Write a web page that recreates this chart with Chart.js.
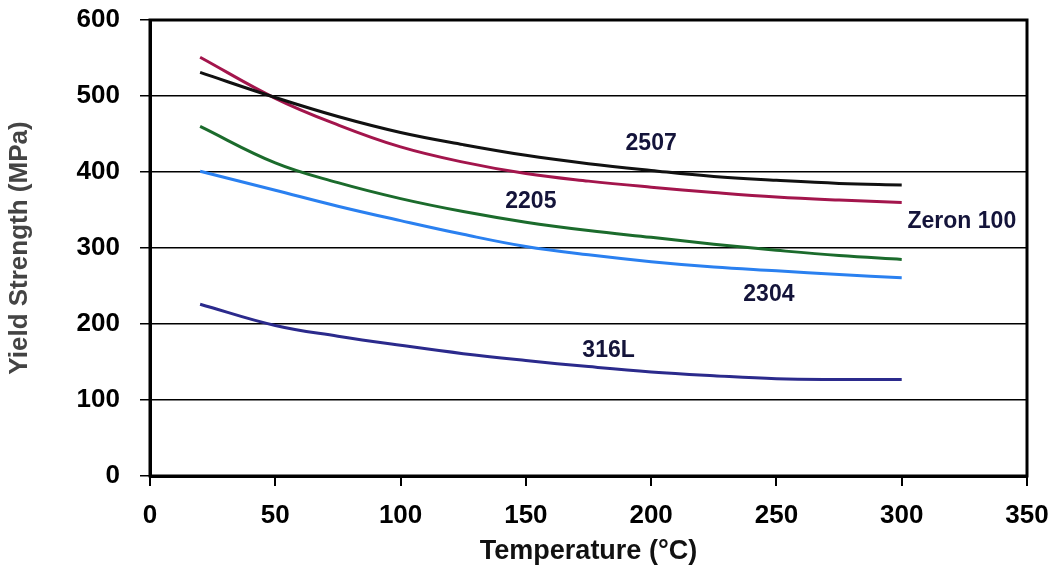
<!DOCTYPE html>
<html>
<head>
<meta charset="utf-8">
<script src="https://cdn.jsdelivr.net/npm/chart.js@4/dist/chart.umd.min.js"></script>
<style>
    html, body { margin: 0; padding: 0; background: #fff; }
    #wrap { width: 1055px; height: 572px; }
</style>
</head>
<body>
<div id="wrap"><canvas id="yieldChart" width="1055" height="572"></canvas></div>
<script>
// Temperature points (°C)
const temps = [20, 50, 75, 100, 125, 150, 175, 200, 225, 250, 275, 300];

// Yield strength (MPa)
const s2507  = [531, 498, 473, 452, 436, 422, 411, 402, 394, 389, 385, 383];
const zeron  = [551, 497, 462, 433, 413, 398, 388, 380, 373, 367, 363, 360];
const s2205  = [460, 412, 386, 365, 348, 334, 323, 314, 305, 297, 290, 285];
const s2304  = [401, 376, 355, 336, 318, 302, 291, 282, 275, 270, 265, 261];
const s316L  = [226, 198, 184, 172, 161, 152, 144, 137, 132, 128, 127, 127];

const xTicks = [0, 50, 100, 150, 200, 250, 300, 350];
const yTicks = [0, 100, 200, 300, 400, 500, 600];

// Curve names placed inside the plot (in data units)
const labelNames = ['2507', '2205', 'Zeron 100', '2304', '316L'];
const labelX = [200, 152, 324, 247, 183];
const labelY = [437, 361, 335, 239, 165];

const FONT = '"Liberation Sans", Arial, sans-serif';

function pts(vals) {
    return temps.map((t, i) => ({ x: t, y: vals[i] }));
}

function line(label, vals, color) {
    return {
        label: label,
        data: pts(vals),
        borderColor: color,
        borderWidth: 3,
        pointRadius: 0,
        fill: false,
        showLine: true,
        tension: 0.4
    };
}

// frame round the plot area + curve names
const framePlugin = {
    id: 'frame',
    afterDatasetsDraw(chart) {
        const { ctx, chartArea, scales } = chart;
        ctx.save();
        ctx.fillStyle = '#14143a';
        ctx.font = 'bold 23px ' + FONT;
        ctx.textAlign = 'center';
        ctx.textBaseline = 'middle';
        labelNames.forEach((name, i) => {
            ctx.fillText(name, scales.x.getPixelForValue(labelX[i]), scales.y.getPixelForValue(labelY[i]));
        });
        ctx.strokeStyle = '#000';
        ctx.lineWidth = 3;
        ctx.strokeRect(chartArea.left, chartArea.top, chartArea.right - chartArea.left, chartArea.bottom - chartArea.top);
        ctx.restore();
    }
};

let yieldChart;

function initChart() {
    const ctx = document.getElementById('yieldChart').getContext('2d');
    yieldChart = new Chart(ctx, {
        type: 'scatter',
        data: {
            datasets: [
                line('2507', s2507, '#111111'),
                line('Zeron 100', zeron, '#a3154c'),
                line('2205', s2205, '#1b6b2c'),
                line('2304', s2304, '#2a80f0'),
                line('316L', s316L, '#2b2a8c')
            ]
        },
        options: {
            responsive: false,
            animation: false,
            layout: { padding: { top: 20, right: 28, left: 0, bottom: 0 } },
            plugins: {
                legend: { display: false },
                tooltip: { enabled: false }
            },
            scales: {
                x: {
                    type: 'linear',
                    min: 0,
                    max: 350,
                    afterBuildTicks: (s) => { s.ticks = xTicks.map(v => ({ value: v })); },
                    afterFit: (s) => { s.height = 96; s.paddingLeft = 0; s.paddingRight = 0; },
                    grid: { drawOnChartArea: false, color: '#000', lineWidth: 2, tickLength: 10 },
                    border: { display: true, color: '#000', width: 3 },
                    ticks: {
                        color: '#000',
                        padding: 14,
                        maxRotation: 0,
                        font: { family: FONT, size: 26, weight: 'bold' }
                    },
                    title: {
                        display: true,
                        text: 'Temperature (°C)',
                        color: '#111',
                        padding: { top: 0 },
                        font: { family: FONT, size: 27, weight: 'bold' }
                    }
                },
                y: {
                    type: 'linear',
                    min: 0,
                    max: 600,
                    afterBuildTicks: (s) => { s.ticks = yTicks.map(v => ({ value: v })); },
                    afterFit: (s) => { s.width = 150; s.paddingTop = 0; s.paddingBottom = 0; },
                    grid: { color: '#000', lineWidth: 1.5, tickLength: 10 },
                    border: { display: true, color: '#000', width: 3 },
                    ticks: {
                        color: '#000',
                        padding: 20,
                        font: { family: FONT, size: 26, weight: 'bold' }
                    },
                    title: {
                        display: true,
                        text: 'Yield Strength (MPa)',
                        color: '#444',
                        padding: { bottom: 2 },
                        font: { family: FONT, size: 26, weight: 'bold' }
                    }
                }
            }
        },
        plugins: [framePlugin]
    });
}

window.onload = function() {
    initChart();
};
</script>
</body>
</html>
